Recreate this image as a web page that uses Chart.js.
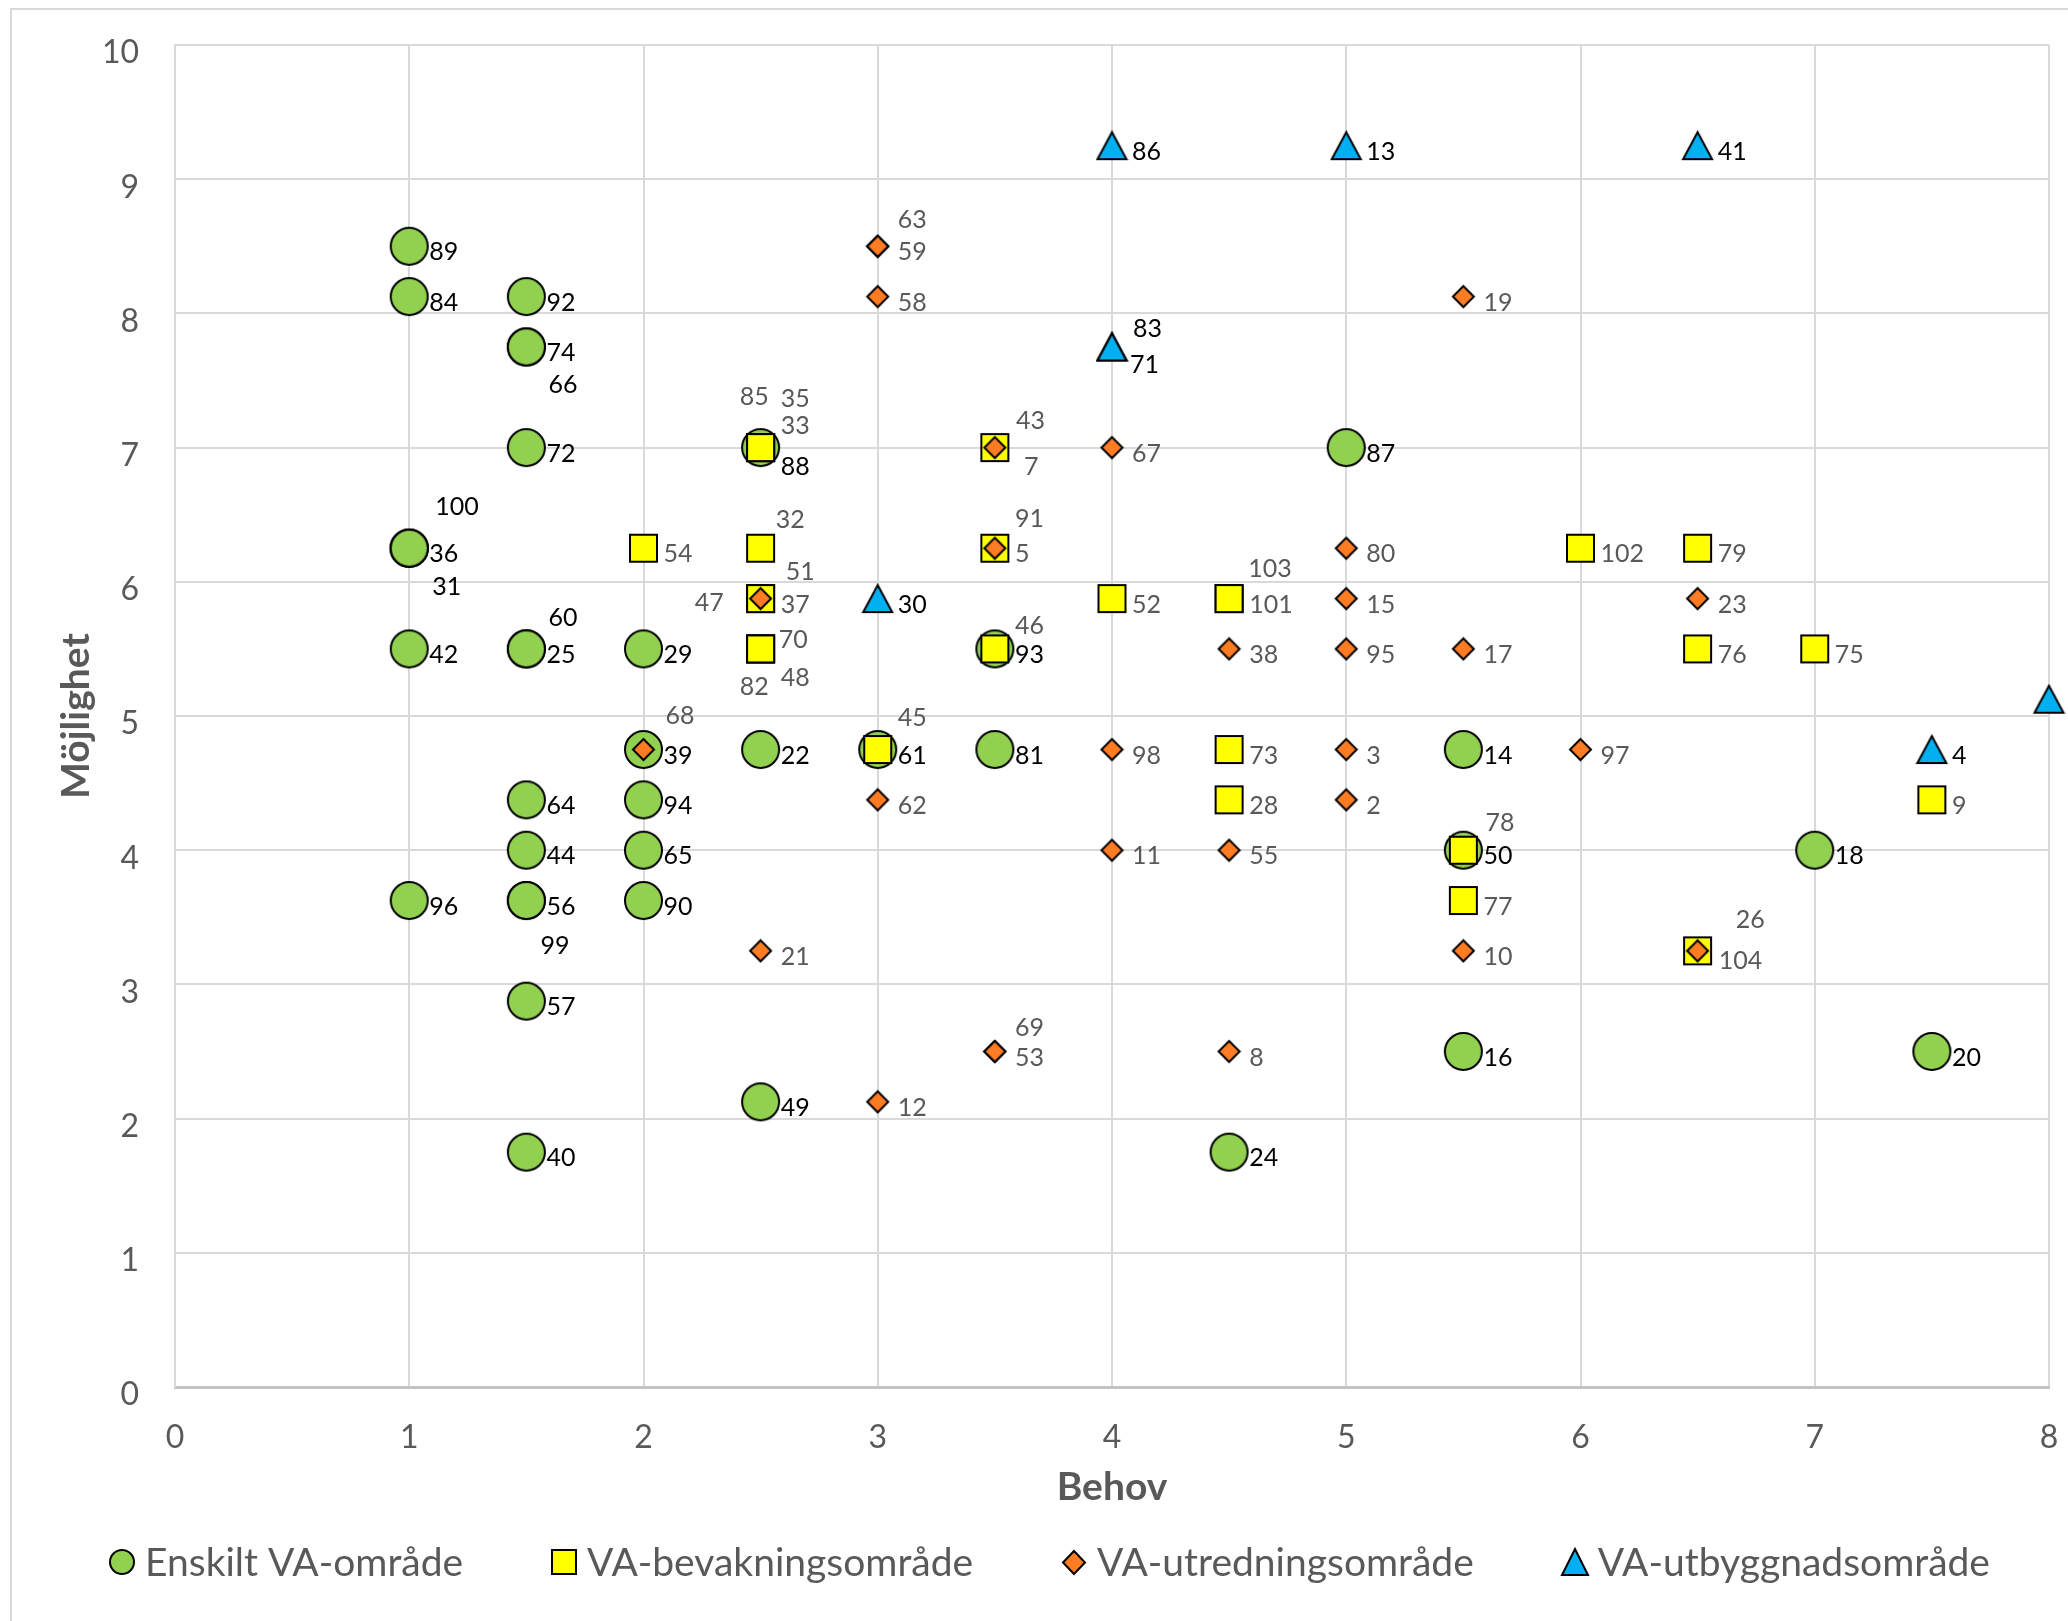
<!DOCTYPE html>
<html lang="sv">
<head>
<meta charset="utf-8">
<title>Behov och möjlighet</title>
<script src="https://cdn.jsdelivr.net/npm/chart.js@4.4.1/dist/chart.umd.min.js"></script>
<style>
    html, body { margin: 0; padding: 0; background: #fff; }
    #wrap { width: 2068px; height: 1621px; }
</style>
</head>
<body>
<div id="wrap"><canvas id="myChart" width="2068" height="1621"></canvas></div>
<script>
// Enskilt VA-område
const enskiltId = ['89', '84', '100', '36', '31', '42', '96', '92', '74', '66', '72', '60', '25', '64', '44', '56', '99', '57', '40', '29', '39', '94', '65', '90', '88', '22', '49', '61', '93', '81', '24', '87', '14', '50', '16', '18', '20'];
const enskiltX = [1, 1, 1, 1, 1, 1, 1, 1.5, 1.5, 1.5, 1.5, 1.5, 1.5, 1.5, 1.5, 1.5, 1.5, 1.5, 1.5, 2, 2, 2, 2, 2, 2.5, 2.5, 2.5, 3, 3.5, 3.5, 4.5, 5, 5.5, 5.5, 5.5, 7, 7.5];
const enskiltY = [8.5, 8.125, 6.25, 6.25, 6.25, 5.5, 3.625, 8.125, 7.75, 7.75, 7, 5.5, 5.5, 4.375, 4, 3.625, 3.625, 2.875, 1.75, 5.5, 4.75, 4.375, 4, 3.625, 7, 4.75, 2.125, 4.75, 5.5, 4.75, 1.75, 7, 4.75, 4, 2.5, 4, 2.5];

// VA-bevakningsområde
const bevakningId = ['54', '85', '35', '33', '32', '51', '47', '70', '48', '82', '45', '43', '91', '46', '52', '103', '101', '73', '28', '78', '77', '102', '79', '76', '26', '75', '9'];
const bevakningX = [2, 2.5, 2.5, 2.5, 2.5, 2.5, 2.5, 2.5, 2.5, 2.5, 3, 3.5, 3.5, 3.5, 4, 4.5, 4.5, 4.5, 4.5, 5.5, 5.5, 6, 6.5, 6.5, 6.5, 7, 7.5];
const bevakningY = [6.25, 7, 7, 7, 6.25, 5.875, 5.875, 5.5, 5.5, 5.5, 4.75, 7, 6.25, 5.5, 5.875, 5.875, 5.875, 4.75, 4.375, 4, 3.625, 6.25, 6.25, 5.5, 3.25, 5.5, 4.375];

// VA-utredningsområde
const utredningId = ['68', '37', '21', '63', '59', '58', '62', '12', '7', '5', '69', '53', '67', '98', '11', '38', '55', '8', '80', '15', '95', '3', '2', '19', '17', '10', '97', '23', '104'];
const utredningX = [2, 2.5, 2.5, 3, 3, 3, 3, 3, 3.5, 3.5, 3.5, 3.5, 4, 4, 4, 4.5, 4.5, 4.5, 5, 5, 5, 5, 5, 5.5, 5.5, 5.5, 6, 6.5, 6.5];
const utredningY = [4.75, 5.875, 3.25, 8.5, 8.5, 8.125, 4.375, 2.125, 7, 6.25, 2.5, 2.5, 7, 4.75, 4, 5.5, 4, 2.5, 6.25, 5.875, 5.5, 4.75, 4.375, 8.125, 5.5, 3.25, 4.75, 5.875, 3.25];

// VA-utbyggnadsområde (sista punktens etikett hamnar utanför bilden)
const utbyggnadId = ['30', '86', '83', '71', '13', '41', '4', ''];
const utbyggnadX = [3, 4, 4, 4, 5, 6.5, 7.5, 8];
const utbyggnadY = [5.875, 9.25, 7.75, 7.75, 9.25, 9.25, 4.75, 5.125];

const seriesNames = ['Enskilt VA-område', 'VA-bevakningsområde', 'VA-utredningsområde', 'VA-utbyggnadsområde'];
const xTitle = 'Behov';
const yTitle = 'Möjlighet';

// etiketter som flyttats för hand (dx, dy från punktens mitt)
const labelNudge = {
    '100': [26, -42], '31': [23, 38], '66': [22, 37], '60': [22, -32], '99': [14, 44],
    '85': [-21, -52], '35': [20, -50], '33': [20, -23], '88': [20, 18], '32': [15, -29],
    '51': [25, -28], '47': [-66, 3], '70': [18, -10], '48': [20, 28], '82': [-21, 37],
    '45': [20, -33], '68': [22, -35], '43': [21, -28], '7': [29, 18], '91': [20, -30],
    '46': [20, -24], '69': [20, -25], '63': [20, -27], '83': [21, -19], '71': [18, 17],
    '103': [19, -31], '78': [22, -28], '26': [38, -32], '104': [21, 9]
};

const FONT = 'Lato';
const GREY = '#595959';

const makeMarker = (shape, w, h, fill) => {
    const c = document.createElement('canvas');
    c.width = Math.ceil(w + 4);
    c.height = Math.ceil(h + 4);
    const g = c.getContext('2d');
    const cx = c.width / 2, cy = c.height / 2;
    g.beginPath();
    if (shape === 'circle') {
        g.ellipse(cx, cy, w / 2, h / 2, 0, 0, Math.PI * 2);
    } else if (shape === 'square') {
        g.rect(cx - w / 2, cy - h / 2, w, h);
    } else if (shape === 'diamond') {
        g.moveTo(cx, cy - h / 2);
        g.lineTo(cx + w / 2, cy);
        g.lineTo(cx, cy + h / 2);
        g.lineTo(cx - w / 2, cy);
        g.closePath();
    } else {
        g.moveTo(cx, cy - h / 2);
        g.lineTo(cx + w / 2, cy + h / 2);
        g.lineTo(cx - w / 2, cy + h / 2);
        g.closePath();
    }
    g.fillStyle = fill;
    g.fill();
    g.lineWidth = 2;
    g.strokeStyle = '#000';
    g.stroke();
    return c;
};

const toPoints = (xs, ys) => xs.map((x, i) => ({ x: x, y: ys[i] }));

const datasets = [
    {
        label: seriesNames[0],
        data: toPoints(enskiltX, enskiltY),
        ids: enskiltId,
        labelColor: '#000',
        pointStyle: makeMarker('circle', 37, 37, '#92D050'),
        legendIcon: makeMarker('circle', 24, 24, '#92D050'),
        pointRadius: 18,
        clip: false,
        order: 4
    },
    {
        label: seriesNames[1],
        data: toPoints(bevakningX, bevakningY),
        ids: bevakningId,
        labelColor: GREY,
        pointStyle: makeMarker('square', 27, 27, '#FFFF00'),
        legendIcon: makeMarker('square', 24, 24, '#FFFF00'),
        pointRadius: 14,
        clip: false,
        order: 3
    },
    {
        label: seriesNames[2],
        data: toPoints(utredningX, utredningY),
        ids: utredningId,
        labelColor: GREY,
        pointStyle: makeMarker('diamond', 21, 21, '#FF7C23'),
        legendIcon: makeMarker('diamond', 22, 23, '#FF7C23'),
        pointRadius: 11,
        clip: false,
        order: 2
    },
    {
        label: seriesNames[3],
        data: toPoints(utbyggnadX, utbyggnadY),
        ids: utbyggnadId,
        labelColor: '#000',
        pointStyle: makeMarker('triangle', 29, 27, '#00B0F0'),
        legendIcon: makeMarker('triangle', 26, 26, '#00B0F0'),
        pointRadius: 14,
        clip: false,
        order: 1
    }
];

const frame = {
    id: 'frame',
    beforeDraw(chart) {
        const ctx = chart.ctx;
        ctx.save();
        ctx.fillStyle = '#fff';
        ctx.fillRect(0, 0, chart.width, chart.height);
        ctx.strokeStyle = '#d9d9d9';
        ctx.lineWidth = 2;
        ctx.strokeRect(11, 9, chart.width + 20, chart.height + 20);
        ctx.restore();
    }
};

const pointLabels = {
    id: 'pointLabels',
    afterDatasetsDraw(chart) {
        const ctx = chart.ctx;
        ctx.save();
        ctx.font = `25px ${FONT}`;
        ctx.textAlign = 'left';
        ctx.textBaseline = 'middle';
        chart.data.datasets.forEach((ds, i) => {
            const meta = chart.getDatasetMeta(i);
            ctx.fillStyle = ds.labelColor;
            meta.data.forEach((el, j) => {
                const text = ds.ids[j];
                if (!text) return;
                const off = labelNudge[text] || [20, 5];
                ctx.fillText(text, el.x + off[0], el.y + off[1] + 1);
            });
        });
        ctx.restore();
    }
};

const bottomLegend = {
    id: 'bottomLegend',
    afterDraw(chart) {
        const ctx = chart.ctx;
        const cy = 1562, centerX = 1050;
        const markerW = 24, gapText = 11, gapItem = 89;
        ctx.save();
        ctx.font = `39px ${FONT}`;
        ctx.textBaseline = 'middle';
        ctx.textAlign = 'left';
        ctx.fillStyle = GREY;
        const items = chart.data.datasets.map(ds => ({ text: ds.label, icon: ds.legendIcon, w: ctx.measureText(ds.label).width }));
        let total = gapItem * (items.length - 1);
        items.forEach(it => { total += markerW + gapText + it.w; });
        let x = centerX - total / 2;
        items.forEach(it => {
            ctx.drawImage(it.icon, Math.round(x + markerW / 2 - it.icon.width / 2), Math.round(cy - it.icon.height / 2));
            ctx.fillText(it.text, x + markerW + gapText, cy + 1);
            x += markerW + gapText + it.w + gapItem;
        });
        ctx.restore();
    }
};

const ctx = document.getElementById('myChart').getContext('2d');
window.grafica = new Chart(ctx, {
    type: 'scatter',
    data: { datasets: datasets },
    plugins: [frame, pointLabels, bottomLegend],
    options: {
        responsive: false,
        animation: false,
        events: [],
        layout: { padding: { left: 0, right: 19, top: 45, bottom: 0 } },
        plugins: {
            legend: { display: false },
            tooltip: { enabled: false }
        },
        scales: {
            x: {
                type: 'linear',
                min: 0,
                max: 8,
                afterFit: (scale) => {
                    scale.height = 234;
                    scale.paddingLeft = 0;
                    scale.paddingRight = 0;
                },
                ticks: { stepSize: 1, padding: 31, color: GREY, font: { family: FONT, size: 32 } },
                grid: { color: '#d9d9d9', lineWidth: 2, drawTicks: false },
                border: { color: '#c4c4c4', width: 3 },
                title: {
                    display: true,
                    text: xTitle,
                    color: GREY,
                    font: { family: FONT, size: 39, weight: 'bold', lineHeight: 1.2 },
                    padding: { top: 0, bottom: 110 }
                }
            },
            y: {
                type: 'linear',
                min: 0,
                max: 10,
                afterFit: (scale) => {
                    scale.width = 175;
                    scale.paddingTop = 0;
                    scale.paddingBottom = 0;
                },
                ticks: { stepSize: 1, padding: 36, labelOffset: 8, color: GREY, font: { family: FONT, size: 32 } },
                grid: { color: '#d9d9d9', lineWidth: 2, drawTicks: false },
                border: { color: '#d9d9d9', width: 2 },
                title: {
                    display: true,
                    text: yTitle,
                    color: GREY,
                    font: { family: FONT, size: 39, weight: 'bold', lineHeight: 1.2 },
                    padding: { top: 53, bottom: 0 }
                }
            }
        }
    }
});
</script>
</body>
</html>
